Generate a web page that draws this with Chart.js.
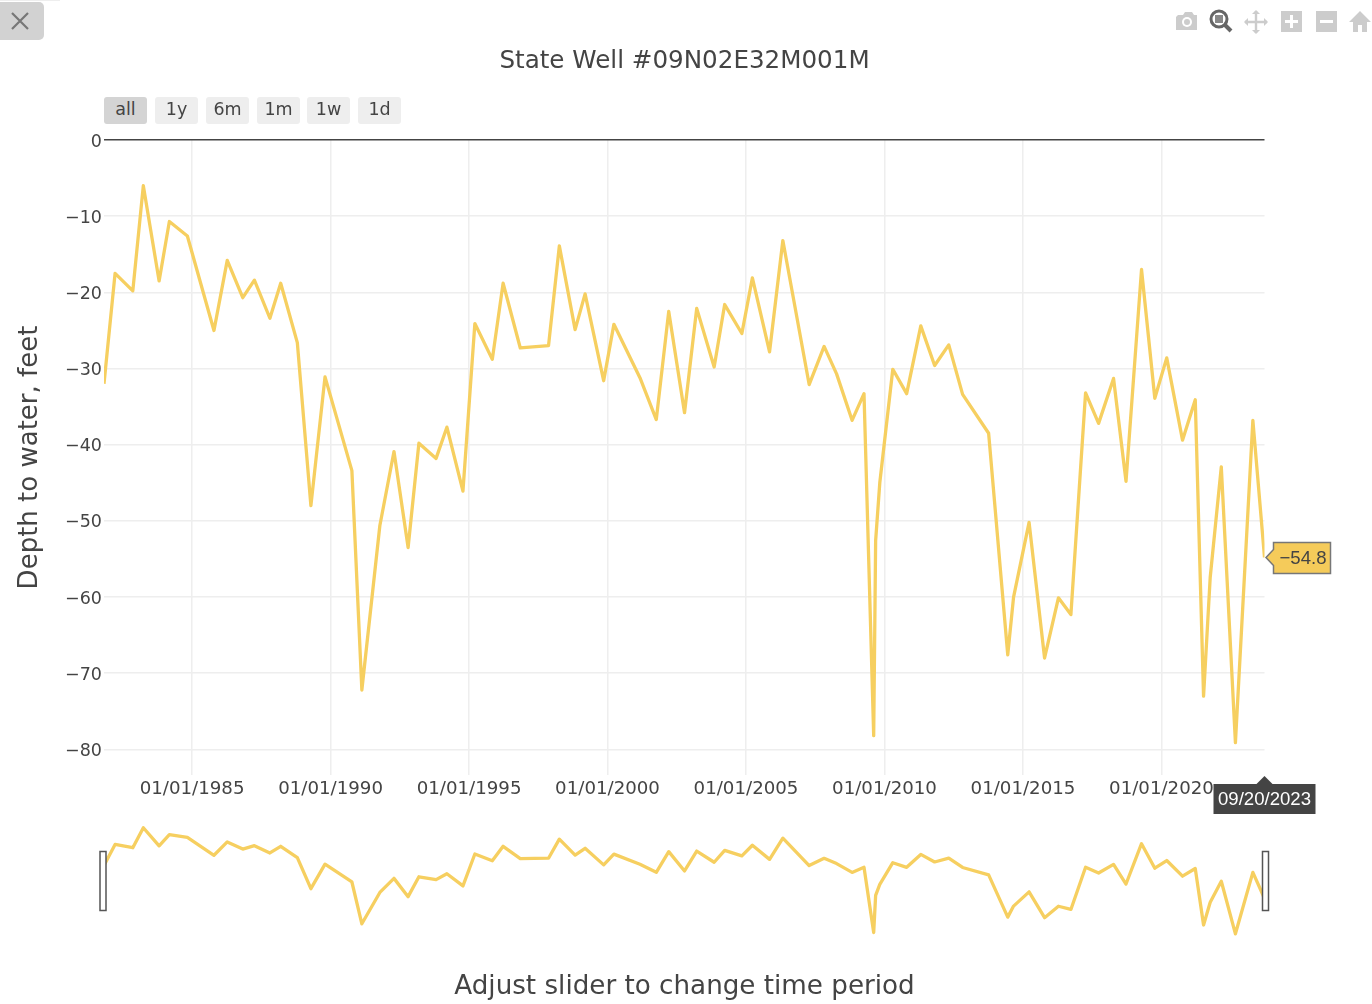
<!DOCTYPE html>
<html>
<head>
<meta charset="utf-8">
<title>State Well #09N02E32M001M</title>
<script src="https://cdn.jsdelivr.net/npm/chart.js@4"></script>
<style>
  html, body { margin: 0; padding: 0; background: #fff; overflow: hidden; }
  body { position: relative; width: 1372px; height: 1004px; font-family: "DejaVu Sans", sans-serif; color: #444; }
  canvas { position: absolute; left: 0; top: 0; }
  .txt { position: absolute; white-space: nowrap; text-align: center; }
  #title { left: 0; width: 1369px; top: 45px; font-size: 24.6px; line-height: 30px; }
  #caption { left: 0; width: 1369px; top: 969px; font-size: 26.2px; line-height: 32px; }
  .rs { position: absolute; top: 97px; height: 27px; width: 43px; background: #eee; border-radius: 3px;
        font-size: 17.5px; line-height: 25px; text-align: center; }
  .rs.on { background: #d4d4d4; }
  #close { position: absolute; left: 0; top: 2px; width: 44px; height: 38px; background: #d2d2d2; border-radius: 0 5px 5px 0; }
  #topline { position: absolute; left: 0; top: 0; width: 60px; height: 1px; background: #eee; }
  #tools { position: absolute; left: 1170px; top: 6px; }
</style>
</head>
<body>
<canvas id="wellChart" width="1372" height="1004"></canvas>
<canvas id="sliderChart" width="1372" height="1004"></canvas>

<div id="topline"></div>
<div id="close">
  <svg width="44" height="38"><path d="M12 11 L28 27 M28 11 L12 27" stroke="#777" stroke-width="2.2" fill="none"/></svg>
</div>

<div id="title" class="txt">State Well #09N02E32M001M</div>
<div id="caption" class="txt">Adjust slider to change time period</div>

<div class="rs on" style="left:104px">all</div>
<div class="rs" style="left:155px">1y</div>
<div class="rs" style="left:206px">6m</div>
<div class="rs" style="left:257px">1m</div>
<div class="rs" style="left:307px">1w</div>
<div class="rs" style="left:358px">1d</div>

<svg id="tools" width="202" height="30">
  <!-- camera -->
  <g transform="translate(3,0)">
    <path d="M5 8 h5 l2-3 h7 l2 3 h3 v15 h-21 v-13 z" fill="#ccc" transform="translate(0,1)"/>
    <circle cx="14" cy="16" r="5" fill="#fff"/><circle cx="14" cy="16" r="3" fill="#ccc"/>
  </g>
  <!-- zoom, active -->
  <circle cx="49" cy="13" r="8" fill="none" stroke="#666" stroke-width="3"/>
  <rect x="45" y="9" width="8" height="8" fill="#888"/>
  <path d="M55 19 L61 25" stroke="#666" stroke-width="4"/>
  <!-- pan -->
  <path d="M86 5 V27 M75 16 H97" stroke="#ccc" stroke-width="2.4"/>
  <path d="M86 4 l-4 4 h8 z M86 28 l-4-4 h8 z M74 16 l4-4 v8 z M98 16 l-4-4 v8 z" fill="#ccc"/>
  <!-- zoom in -->
  <rect x="111" y="5" width="21" height="21" fill="#ccc"/>
  <path d="M115 15.5 H128 M121.5 9 V22" stroke="#fff" stroke-width="3"/>
  <!-- zoom out -->
  <rect x="146" y="5" width="21" height="21" fill="#ccc"/>
  <path d="M150 15.5 H163" stroke="#fff" stroke-width="3"/>
  <!-- home -->
  <path d="M190 5 L201 16 H197 V26 H192 V19 H188 V26 H183 V16 H179 Z" fill="#ccc"/>
</svg>

<script>
// depth to water readings, years are decimal
var wellYears = [
  1981.82, 1982.22, 1982.86, 1983.24, 1983.81, 1984.18, 1984.83, 1985.79, 1986.27, 1986.83,
  1987.25, 1987.81, 1988.20, 1988.80, 1989.29, 1989.80, 1990.77, 1991.13, 1991.78, 1992.29,
  1992.80, 1993.19, 1993.81, 1994.20, 1994.78, 1995.21, 1995.84, 1996.23, 1996.85, 1997.87,
  1998.26, 1998.83, 1999.19, 1999.86, 2000.23, 2001.17, 2001.76, 2002.21, 2002.78, 2003.22,
  2003.85, 2004.23, 2004.85, 2005.23, 2005.85, 2006.33, 2007.28, 2007.82, 2008.27, 2008.83,
  2009.26, 2009.61, 2009.68, 2009.83, 2010.30, 2010.80, 2011.31, 2011.81, 2012.32, 2012.82,
  2013.76, 2014.45, 2014.66, 2015.22, 2015.78, 2016.28, 2016.73, 2017.26, 2017.73, 2018.27,
  2018.72, 2019.28, 2019.76, 2020.19, 2020.76, 2021.22, 2021.52, 2021.76, 2022.16, 2022.67,
  2023.30, 2023.72
];
var wellDepths = [
  -32.0, -17.5, -19.8, -6.0, -18.5, -10.7, -12.6, -25.0, -15.8, -20.7,
  -18.4, -23.4, -18.8, -26.6, -48.0, -31.1, -43.4, -72.2, -50.6, -40.9,
  -53.5, -39.8, -41.8, -37.7, -46.1, -24.1, -28.8, -18.8, -27.3, -27.0,
  -13.9, -24.9, -20.2, -31.6, -24.2, -31.2, -36.7, -22.5, -35.8, -22.1,
  -29.8, -21.6, -25.4, -18.1, -27.8, -13.2, -32.1, -27.1, -30.7, -36.8,
  -33.3, -78.2, -52.6, -45.0, -30.1, -33.3, -24.4, -29.6, -26.9, -33.4,
  -38.5, -67.6, -60.0, -50.2, -68.0, -60.1, -62.3, -33.2, -37.2, -31.3,
  -44.8, -17.0, -33.9, -28.6, -39.4, -34.1, -73.0, -57.4, -42.9, -79.1,
  -36.8, -54.8
];
var lastDateLabel = "09/20/2023";
var xMin = 1981.82, xMax = 2023.72;
var yMin = -83.36, yMax = 0;

var lineColor = "#f6cf60";
var points = wellYears.map(function (yr, i) { return { x: yr, y: wellDepths[i] }; });

function minusSign(v) {
  return String(v).replace("-", "\u2212");
}

// the two hover labels on the last point
var hoverLabels = {
  id: "hoverLabels",
  afterDatasetsDraw: function (chart) {
    var c = chart.ctx;
    var n = points.length - 1;
    var px = chart.scales.x.getPixelForValue(points[n].x);
    var py = chart.scales.y.getPixelForValue(points[n].y);
    var bottom = chart.chartArea.bottom;

    c.save();
    // value tag
    c.beginPath();
    c.moveTo(px + 1.5, py);
    c.lineTo(px + 9, py - 8);
    c.lineTo(px + 9, py - 15);
    c.lineTo(px + 66, py - 15);
    c.lineTo(px + 66, py + 16);
    c.lineTo(px + 9, py + 16);
    c.lineTo(px + 9, py + 8);
    c.closePath();
    c.fillStyle = "#f5cb5a";
    c.fill();
    c.lineWidth = 1.5;
    c.strokeStyle = "#777";
    c.stroke();
    c.fillStyle = "#444";
    c.font = "18.6px 'Liberation Sans'";
    c.textAlign = "right";
    c.textBaseline = "middle";
    c.fillText(minusSign(points[n].y), px + 62, py + 1);

    // date tag
    c.beginPath();
    c.moveTo(px, bottom + 1);
    c.lineTo(px + 8, bottom + 9);
    c.lineTo(px + 51, bottom + 9);
    c.lineTo(px + 51, bottom + 39);
    c.lineTo(px - 51, bottom + 39);
    c.lineTo(px - 51, bottom + 9);
    c.lineTo(px - 8, bottom + 9);
    c.closePath();
    c.fillStyle = "#444";
    c.fill();
    c.fillStyle = "#fff";
    c.textAlign = "center";
    c.fillText(lastDateLabel, px, bottom + 25);
    c.restore();
  }
};

// range slider grab handles
var sliderHandles = {
  id: "sliderHandles",
  afterDatasetsDraw: function (chart) {
    var c = chart.ctx;
    var a = chart.chartArea;
    c.save();
    c.fillStyle = "#fff";
    c.strokeStyle = "#555";
    c.lineWidth = 1.5;
    [a.left - 4, a.right - 2].forEach(function (hx) {
      c.fillRect(hx, 851.5, 6, 59);
      c.strokeRect(hx, 851.5, 6, 59);
    });
    c.restore();
  }
};

new Chart(document.getElementById("wellChart"), {
  type: "line",
  data: {
    datasets: [{
      data: points,
      borderColor: lineColor,
      borderWidth: 3.3,
      borderJoinStyle: "round",
      pointRadius: 0,
      tension: 0
    }]
  },
  options: {
    responsive: false,
    animation: false,
    events: [],
    layout: { autoPadding: false, padding: { left: 0, right: 107.5, top: 140, bottom: 194 } },
    plugins: { legend: { display: false }, tooltip: { enabled: false } },
    scales: {
      x: {
        type: "linear",
        min: xMin,
        max: xMax,
        afterFit: function (s) { s.height = 35; },
        border: { display: false },
        grid: { color: "#eee", lineWidth: 1.5, drawTicks: false },
        ticks: {
          stepSize: 5,
          includeBounds: false,
          maxRotation: 0,
          autoSkip: false,
          padding: 3,
          color: "#444",
          font: { family: "DejaVu Sans", size: 18.2 },
          callback: function (v) { return "01/01/" + v; }
        }
      },
      y: {
        min: yMin,
        max: yMax,
        afterFit: function (s) { s.width = 104; },
        border: { display: false },
        title: {
          display: true,
          text: "Depth to water, feet",
          color: "#444",
          font: { family: "DejaVu Sans", size: 26 },
          padding: { top: 15, bottom: 0 }
        },
        grid: {
          drawTicks: false,
          lineWidth: 1.5,
          color: function (ctx) { return ctx.tick && ctx.tick.value === 0 ? "#444" : "#eee"; }
        },
        ticks: {
          stepSize: 10,
          includeBounds: false,
          padding: 2,
          labelOffset: 2,
          color: "#444",
          font: { family: "DejaVu Sans", size: 17.5 },
          callback: function (v) { return minusSign(v); }
        }
      }
    }
  },
  plugins: [hoverLabels]
});

new Chart(document.getElementById("sliderChart"), {
  type: "line",
  data: {
    datasets: [{
      data: points,
      borderColor: lineColor,
      borderWidth: 3.3,
      borderJoinStyle: "round",
      pointRadius: 0,
      tension: 0
    }]
  },
  options: {
    responsive: false,
    animation: false,
    events: [],
    layout: { autoPadding: false, padding: { left: 104, right: 107.5, top: 819, bottom: 64 } },
    plugins: { legend: { display: false }, tooltip: { enabled: false } },
    scales: {
      x: { type: "linear", display: false, min: xMin, max: xMax },
      y: { display: false, min: yMin, max: yMax }
    }
  },
  plugins: [sliderHandles]
});
</script>
</body>
</html>
